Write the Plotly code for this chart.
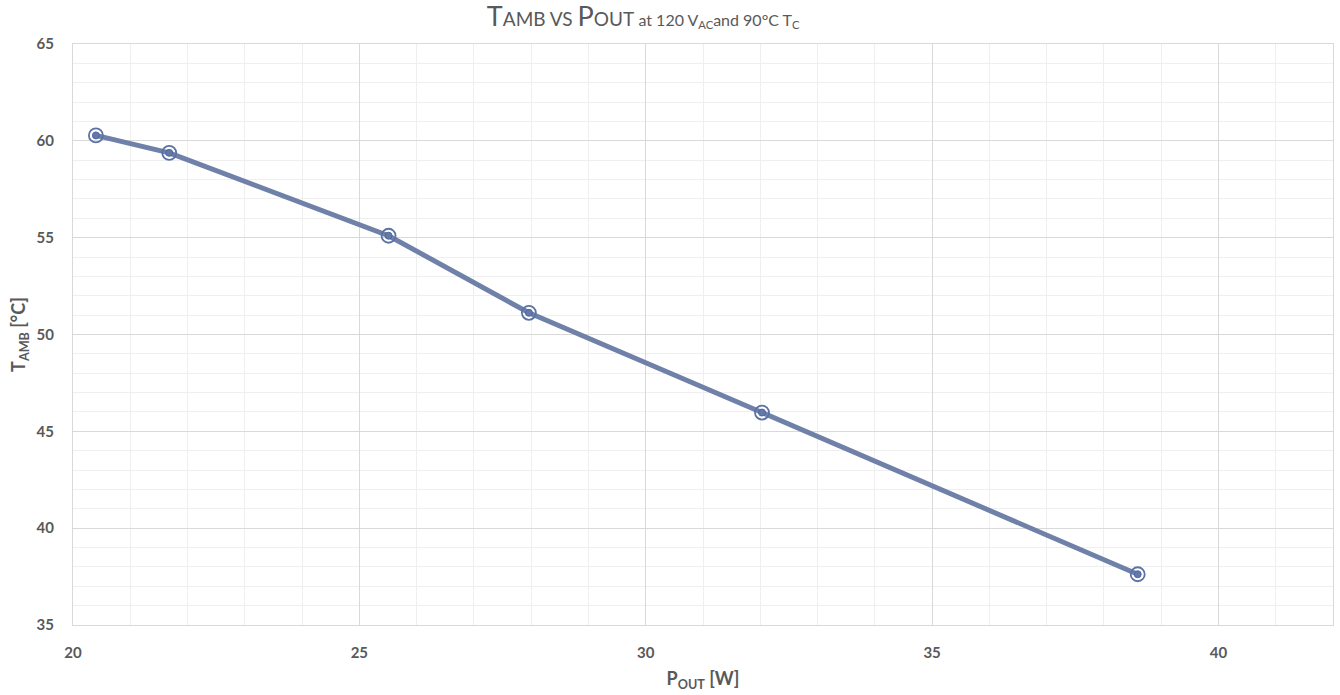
import plotly.graph_objects as go

p_out = [20.40, 21.68, 25.51, 27.96, 32.03, 38.59]
t_amb = [60.28, 59.38, 55.10, 51.12, 45.97, 37.62]

x_ticks = [20, 25, 30, 35, 40]
y_ticks = [35, 40, 45, 50, 55, 60, 65]

LINE = "#6f81a8"
TXT = "#595959"
MAJOR = "#d9d9d9"
MINOR = "#efefef"

fig = go.Figure()
fig.add_trace(go.Scatter(
    x=p_out, y=t_amb, mode="lines+markers",
    line=dict(color=LINE, width=5),
    marker=dict(symbol="circle-open", size=14, color="#5a72a6",
                line=dict(width=1.8, color="#5a72a6")),
    showlegend=False, hoverinfo="skip",
))
fig.add_trace(go.Scatter(
    x=p_out, y=t_amb, mode="markers",
    marker=dict(symbol="circle", size=7, color="#6479a9",
                line=dict(width=1, color="#4f67a0")),
    showlegend=False,
))

title = ("<span style='font-size:27px'>T</span>AMB VS "
         "<span style='font-size:27px'>P</span>OUT "
         "<span style='font-size:16px'>at 120 V<sub>AC</sub>and 90°C T<sub>C</sub></span>")

fig.update_layout(
    width=1340, height=695,
    paper_bgcolor="white", plot_bgcolor="white",
    margin=dict(l=73, r=7, t=44, b=70, autoexpand=False),
    font=dict(family="Lato, Open Sans, sans-serif", color=TXT),
    title=dict(text=title, x=0.48, xanchor="center", y=0.972, yanchor="middle",
               automargin=False,
               font=dict(family="Lato, sans-serif", size=19, color=TXT)),
    xaxis=dict(
        range=[20, 42], tickvals=x_ticks, showgrid=True, gridcolor=MAJOR, gridwidth=1,
        minor=dict(dtick=1, tick0=20, showgrid=True, gridcolor=MINOR),
        zeroline=False, showline=True, linecolor=MAJOR, mirror=True, automargin=False,
        tickfont=dict(size=15, family="Lato, sans-serif", weight="bold", color=TXT),
        ticklabelstandoff=14,
        title=dict(text="P<sub>OUT</sub> [W]", standoff=12,
                   font=dict(size=18, family="Lato, sans-serif", weight="bold", color=TXT)),
    ),
    yaxis=dict(
        range=[35, 65], tickvals=y_ticks, showgrid=True, gridcolor=MAJOR, gridwidth=1,
        minor=dict(dtick=1, tick0=35, showgrid=True, gridcolor=MINOR),
        zeroline=False, showline=True, linecolor=MAJOR, mirror=True, automargin=False,
        tickfont=dict(size=15, family="Lato, sans-serif", weight="bold", color=TXT),
        ticklabelstandoff=15,
        title=dict(text="T<sub>AMB</sub> [°C]", standoff=6,
                   font=dict(size=18, family="Lato, sans-serif", weight="bold", color=TXT)),
    ),
)

fig.write_html("out.html", config={"displayModeBar": False},
               post_script="document.body.style.margin='0';")
